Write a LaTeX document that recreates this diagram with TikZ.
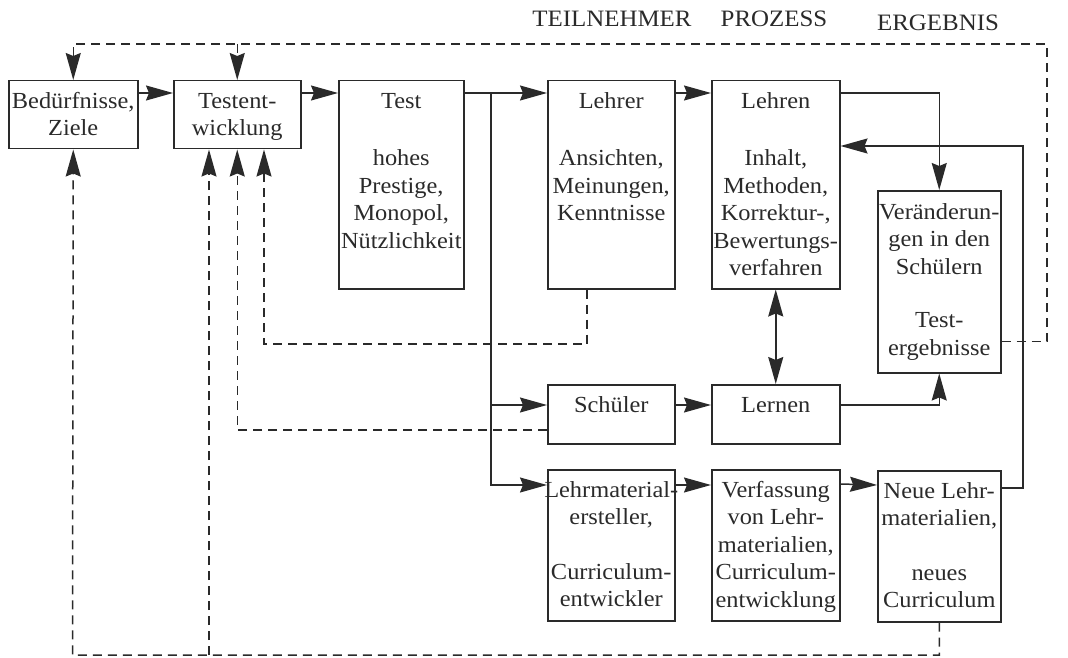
\documentclass[tikz,border=0pt]{standalone}
\usepackage{fontspec}
\setmainfont[FakeStretch=1.06]{Liberation Serif}
\usetikzlibrary{arrows.meta,calc}
\definecolor{ink}{RGB}{42,42,42}
\begin{document}
\begin{tikzpicture}[x=1pt,y=-1pt,
  box/.style={draw=ink, line width=1.5pt, anchor=north west, inner sep=0pt},
  txt/.style={anchor=north, inner sep=0pt, align=center, text=ink, font=\fontsize{23}{27.5}\selectfont},
  head/.style={anchor=base, inner sep=0pt, text=ink, font=\fontsize{23.5}{27}\selectfont},
  tip/.style={Stealth[length=27pt,width=15pt,inset=3pt]},
  arr/.style={draw=ink, line width=1.5pt, -{Stealth[length=27pt,width=15pt,inset=3pt]}},
  darr/.style={arr, dash pattern=on 9pt off 6pt},
  biarr/.style={draw=ink, line width=1.5pt, {Stealth[length=27pt,width=15pt,inset=3pt]}-{Stealth[length=27pt,width=15pt,inset=3pt]}}
]
\useasboundingbox (0,0) rectangle (1068,658);

% headers
\node[head] (hTeil) at (612,27) {TEILNEHMER};
\node[head] (hProz) at (774,27) {PROZESS};
\node[head] (hErg)  at (938,31) {ERGEBNIS};

% boxes
\node[box, minimum width=129pt, minimum height=68pt]  (bed)      at (8,80) {};
\node[box, minimum width=127pt, minimum height=68pt]  (tew)      at (173,80) {};
\node[box, minimum width=125pt, minimum height=208pt] (test)     at (338,80) {};
\node[box, minimum width=127pt, minimum height=208pt] (lehrer)   at (547,80) {};
\node[box, minimum width=128pt, minimum height=208pt] (lehren)   at (711,80) {};
\node[box, minimum width=123pt, minimum height=182pt] (ver)      at (877,190) {};
\node[box, minimum width=127pt, minimum height=59pt]  (schueler) at (547,384) {};
\node[box, minimum width=128pt, minimum height=59pt]  (lernen)   at (711,384) {};
\node[box, minimum width=127pt, minimum height=151pt] (lme)      at (547,469) {};
\node[box, minimum width=128pt, minimum height=151pt] (verf)     at (711,469) {};
\node[box, minimum width=123pt, minimum height=151pt] (neue)     at (877,470) {};

% texts
\node[txt] (bedT)  at ([yshift=-8.75pt]bed.north) {\strut Bedürfnisse,\\Ziele};
\node[txt] (tewT)  at ([yshift=-8.75pt]tew.north) {\strut Testent-\\wicklung};
\node[txt] (testT) at ([yshift=-8.75pt]test.north) {\strut Test\\[30pt]hohes\\Prestige,\\Monopol,\\Nützlichkeit};
\node[txt] (lehrerT) at ([yshift=-8.75pt]lehrer.north) {\strut Lehrer\\[30pt]Ansichten,\\Meinungen,\\Kenntnisse};
\node[txt] (lehrenT) at ([yshift=-8.75pt]lehren.north) {\strut Lehren\\[30pt]Inhalt,\\Methoden,\\Korrektur-,\\Bewertungs-\\verfahren};
\node[txt] (verT) at ([yshift=-10pt]ver.north) {\strut Veränderun-\\gen in den\\Schülern\\[26pt]Test-\\ergebnisse};
\node[txt] (schuelerT) at ([yshift=-8.75pt]schueler.north) {\strut Schüler};
\node[txt] (lernenT) at ([yshift=-8.75pt]lernen.north) {\strut Lernen};
\node[txt] (lmeT) at ([yshift=-8.75pt]lme.north) {\strut Lehrmaterial-\\ersteller,\\[27pt]Curriculum-\\entwickler};
\node[txt] (verfT) at ([yshift=-8.75pt]verf.north) {\strut Verfassung\\von Lehr-\\materialien,\\Curriculum-\\entwicklung};
\node[txt] (neueT) at ([yshift=-8.75pt]neue.north) {\strut Neue Lehr-\\materialien,\\[27pt]neues\\Curriculum};

% solid connectors
\draw[arr] ([yshift=-13pt]bed.north east) -- ([yshift=-13pt]tew.north west);
\draw[arr] ([yshift=-13pt]tew.north east) -- ([yshift=-13pt]test.north west);
\draw[arr] ([yshift=-13pt]test.north east) -- ([yshift=-13pt]lehrer.north west);
\draw[arr] ([yshift=-13pt]lehrer.north east) -- ([yshift=-13pt]lehren.north west);
\coordinate (split) at (491,93);
\draw[arr] (split) |- ([yshift=-21pt]schueler.north west);
\draw[arr] (split) |- ([yshift=-16pt]lme.north west);
\draw[arr] ([yshift=-13pt]lehren.north east) -| (ver.north);
\draw[biarr] (lehren.south) -- (lernen.north);
\draw[arr] ([yshift=-21pt]schueler.north east) -- ([yshift=-21pt]lernen.north west);
\draw[arr] ([yshift=-21pt]lernen.north east) -| (ver.south);
\draw[arr] ([yshift=-16pt]lme.north east) -- ([yshift=-16pt]verf.north west);
\draw[arr] ([yshift=-15pt]verf.north east) -- ([yshift=-15pt]neue.north west);
\coordinate (fb) at (1023,300);
\draw[arr] ([yshift=-18pt]neue.north east) -| (fb) |- ([yshift=-66pt]lehren.north east);

% dashed connectors
\coordinate (topR) at (1047,44);
\draw[darr] ([yshift=32pt]ver.south east) -| (topR) -| (bed.north);
\draw[darr] (tew.north |- topR) -- (tew.north);

\coordinate (c1) at (264,344);
\coordinate (t3) at ([xshift=91pt]tew.south west);
\draw[darr] ([xshift=40pt]lehrer.south west) |- (c1) -- (t3);

\draw[darr] ([yshift=-46pt]schueler.north west) -| (tew.south);

\coordinate (cB) at (72.5,655);
\coordinate (t1) at ([xshift=36pt]tew.south west);
\draw[darr] (neue.south) |- (cB) -- (bed.south);
\draw[darr] (t1 |- cB) -- (t1);
\end{tikzpicture}
\end{document}
